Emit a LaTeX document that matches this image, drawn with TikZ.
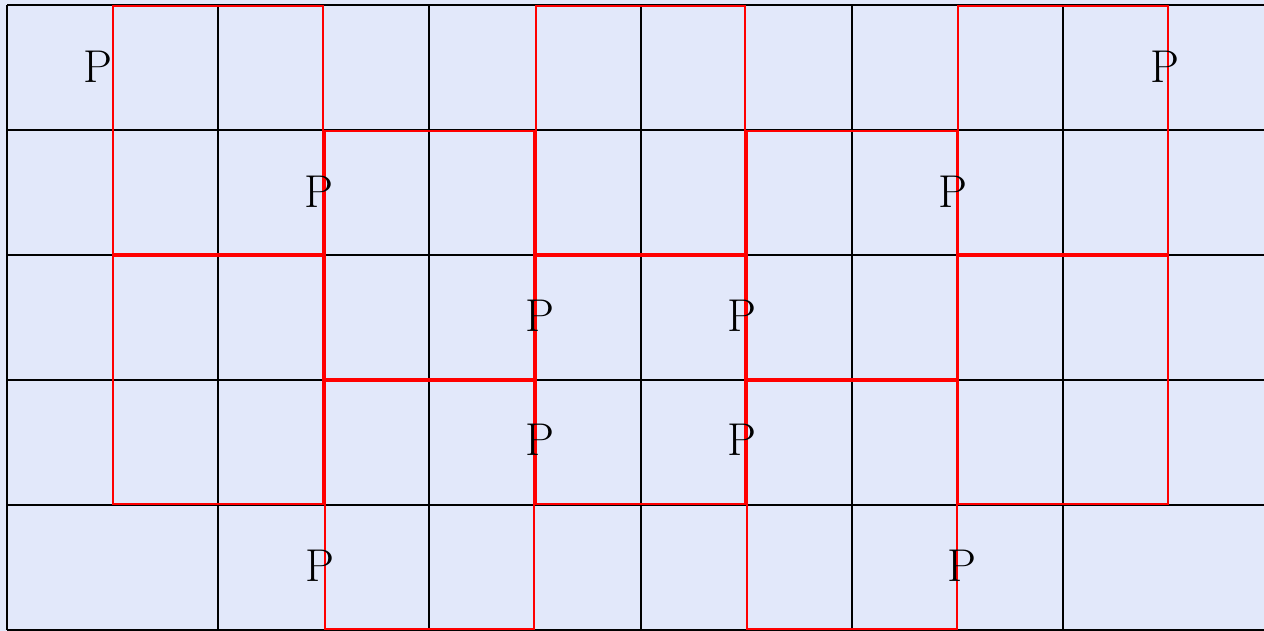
\documentclass[tikz,border=0pt]{standalone}
\definecolor{bgfill}{RGB}{226,232,250}
\tikzset{
  gridline/.style={black, line width=2pt},
  redbox/.style={red, line width=2pt},
  plabel/.style={font=\fontsize{46}{50}\selectfont, inner sep=0pt}
}
\begin{document}
\begin{tikzpicture}[x=1pt,y=-1pt]
\useasboundingbox (0,0) rectangle (1264,631);
\fill[bgfill] (0,0) rectangle (1264,631);
% black grid
\foreach \i in {0,...,5} \draw[gridline] (7+211.2*\i,5) -- (7+211.2*\i,630);
\foreach \j in {0,...,5} \draw[gridline] (7,5+125*\j) -- (1275,5+125*\j);
% red boxes
\foreach \k/\y in {0/5,1/130,2/5,3/130,4/5} {
  \draw[redbox] (112.6+211.2*\k+0.8,\y+0.8) rectangle (323.8+211.2*\k-0.8,\y+250-0.8);
  \draw[redbox] (112.6+211.2*\k+0.8,\y+250+0.8) rectangle (323.8+211.2*\k-0.8,\y+500-0.8);
}
% labels
\node[plabel] (p1) at (97.5,66.5) {P};
\node[plabel] (p2) at (319,192) {P};
\node[plabel] (p3) at (540,316) {P};
\node[plabel] (p4) at (741.5,316) {P};
\node[plabel] (p5) at (540,440) {P};
\node[plabel] (p6) at (742,440) {P};
\node[plabel] (p7) at (319.5,566) {P};
\node[plabel] (p8) at (952.5,191.5) {P};
\node[plabel] (p9) at (962,566) {P};
\node[plabel] (p10) at (1164.5,66.5) {P};
\end{tikzpicture}
\end{document}
